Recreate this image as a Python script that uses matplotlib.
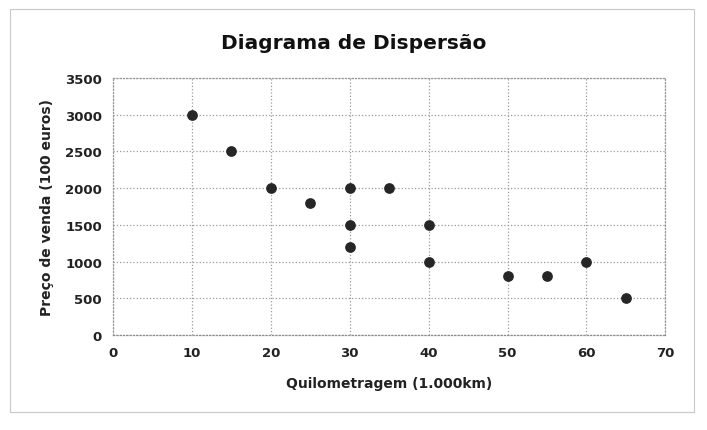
import matplotlib.pyplot as plt
from matplotlib.patches import Rectangle

# Data
km = [10, 15, 20, 25, 30, 30, 30, 35, 40, 40, 50, 55, 60, 65]
preco = [3000, 2500, 2000, 1800, 2000, 1500, 1200, 2000, 1500, 1000, 800, 800, 1000, 500]
x_ticks = [0, 10, 20, 30, 40, 50, 60, 70]
y_ticks = [0, 500, 1000, 1500, 2000, 2500, 3000, 3500]

fig = plt.figure(figsize=(7.07, 4.31), dpi=100)
ax = fig.add_axes([0.160, 0.220, 0.781, 0.597])

# outer chart border
fig.patches.append(Rectangle((10 / 707, 1 - 413 / 431), 684 / 707, 403 / 431,
                             transform=fig.transFigure, fill=False,
                             edgecolor='#c8c8c8', linewidth=0.8))

ax.scatter(km, preco, s=45, color='#262626', zorder=3)

ax.set_xlim(0, 70)
ax.set_ylim(0, 3500)
ax.set_xticks(x_ticks)
ax.set_yticks(y_ticks)
ax.grid(True, color='#9a9a9a', linestyle=':', linewidth=0.9)
ax.set_axisbelow(True)
for s in ax.spines.values():
    s.set_color('#9a9a9a')
    s.set_linestyle(':')
    s.set_linewidth(0.9)
ax.spines['bottom'].set_color('#8c8c8c')
ax.tick_params(length=0, pad=8, labelsize=9.5, colors='#222222')
for lab in ax.get_xticklabels() + ax.get_yticklabels():
    lab.set_fontweight('bold')

ax.set_xlabel('Quilometragem (1.000km)', fontsize=10, fontweight='bold',
              color='#222222', labelpad=12)
ax.set_ylabel('Preço de venda (100 euros)', fontsize=10, fontweight='bold',
              color='#222222', labelpad=8)
fig.text(0.5, 1 - 44 / 431, 'Diagrama de Dispersão', ha='center', va='center',
         fontsize=14.5, fontweight='bold', color='#111111')

fig.savefig('out.png', dpi=100)
